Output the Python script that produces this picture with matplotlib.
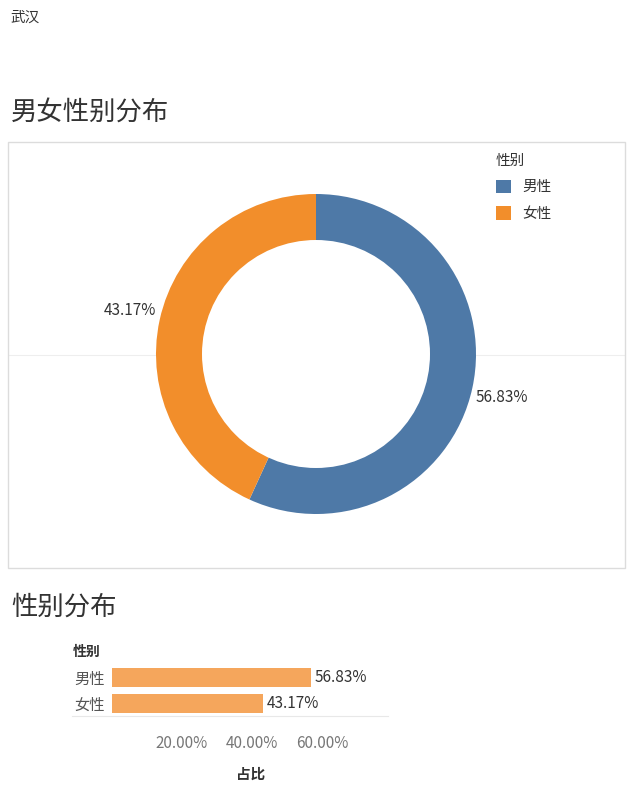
import matplotlib
matplotlib.use("Agg")
import matplotlib.pyplot as plt
from matplotlib.patches import Rectangle, Circle
from matplotlib.lines import Line2D
import numpy as np

plt.rcParams['font.family'] = ['Noto Sans CJK SC', 'DejaVu Sans']

# data
genders = ['男性', '女性']
shares = [0.5683, 0.4317]
donut_colors = ['#4E79A7', '#F28E2B']
bar_color = '#F5A65C'
x_ticks = [0.2, 0.4, 0.6]

W, H = 634, 800


def fx(x):
    return x / W


def fy(y):
    return 1 - y / H


fig = plt.figure(figsize=(W / 100, H / 100), dpi=100)

# header texts
fig.text(fx(10), fy(18), '武汉', fontsize=10.5, color='#333333', va='center', ha='left')
fig.text(fx(11), fy(112), '男女性别分布', fontsize=19, color='#333333', va='center', ha='left')
fig.text(fx(11), fy(607), '性别分布', fontsize=19, color='#333333', va='center', ha='left')

# donut panel frame + faint mid line (behind the donut)
fig.patches.append(Rectangle((fx(8), fy(568)), fx(625) - fx(8), fy(142) - fy(568),
                             transform=fig.transFigure, fill=False,
                             edgecolor='#dcdcdc', linewidth=1.0))
fig.lines.append(Line2D([fx(9), fx(624)], [fy(355), fy(355)], transform=fig.transFigure,
                        color='#eeeeee', linewidth=0.8, zorder=-1))

# donut
R_px, ring_px = 160, 46
cx, cy, half = 316, 354, 170
ax = fig.add_axes([fx(cx - half), fy(cy + half), 2 * half / W, 2 * half / H])
wedges, _ = ax.pie(shares, colors=donut_colors, startangle=90, counterclock=False,
                   radius=1, wedgeprops=dict(edgecolor='none'))
ax.add_patch(Circle((0, 0), 1 - ring_px / R_px, facecolor='white', edgecolor='none', zorder=5))
lim = half / R_px
ax.set_xlim(-lim, lim)
ax.set_ylim(-lim, lim)
ax.set_aspect('equal')
ax.axis('off')

for w, v in zip(wedges, shares):
    mid = np.deg2rad((w.theta1 + w.theta2) / 2)
    x, y = 1.02 * np.cos(mid), 1.02 * np.sin(mid)
    ax.text(x, y, f'{v:.2%}', fontsize=11, color='#333333',
            ha='left' if x > 0 else 'right', va='top' if y < 0 else 'bottom')

leg = fig.legend(wedges, genders, title='性别', loc='upper left',
                 bbox_to_anchor=(fx(496), fy(154)), frameon=False,
                 fontsize=10.5, title_fontsize=10.5, handlelength=1.05, handleheight=1.05,
                 handletextpad=0.75, labelspacing=0.8, borderpad=0, borderaxespad=0,
                 alignment='left')
for t in leg.get_texts():
    t.set_color('#333333')
leg.get_title().set_color('#333333')

# bar chart
bx0, bx1 = 112, 390
by0, by1 = 664.5, 716.5
bax = fig.add_axes([fx(bx0), fy(by1), (bx1 - bx0) / W, (by1 - by0) / H])
ypos = np.arange(len(genders))
bax.barh(ypos, shares, height=0.73, color=bar_color)
bax.set_ylim(len(genders) - 0.5, -0.5)
bax.set_xlim(0, (bx1 - bx0) / 3.5 / 100)
for y, v in zip(ypos, shares):
    bax.text(v + 0.011, y, f'{v:.2%}', va='center', ha='left', fontsize=11, color='#333333')
bax.set_yticks(ypos)
bax.set_yticklabels(genders, fontsize=11, color='#555555')
bax.set_xticks(x_ticks)
bax.set_xticklabels([f'{t:.2%}' for t in x_ticks], fontsize=11, color='#777777')
bax.tick_params(axis='both', length=0)
bax.tick_params(axis='y', pad=5)
bax.tick_params(axis='x', pad=13)
bax.set_xlabel('占比', fontsize=10.5, color='#333333', labelpad=10, fontweight='bold')
for s in bax.spines.values():
    s.set_visible(False)

fig.lines.append(Line2D([fx(72), fx(388)], [fy(715.5), fy(715.5)], transform=fig.transFigure,
                        color='#e8e8e8', linewidth=0.8))
fig.text(fx(73), fy(652), '性别', fontsize=10, color='#333333', va='center', ha='left',
         fontweight='bold')

fig.savefig('out.png', dpi=100, facecolor='white')
